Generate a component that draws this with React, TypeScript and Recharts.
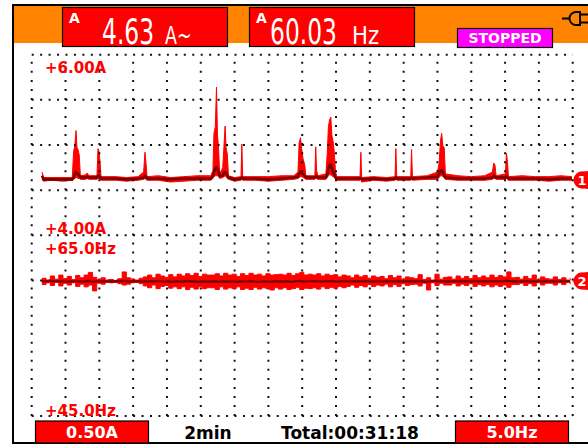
import React from 'react';
import { ComposedChart, Area, Line, XAxis, YAxis, ReferenceLine } from 'recharts';

// trace 1: current (A), min / avg / max per sample, time in minutes across the screen
const ampTime = [
  0.61, 0.7, 1.2, 1.8, 2.4,
  2.48, 2.55, 2.62, 2.68, 2.74, 2.81, 2.88,
  3.2, 3.27, 3.4, 3.86, 3.92, 3.98, 4.04, 4.1,
  5.0, 5.6, 6.3, 6.62, 6.7, 6.76, 6.82,
  7.5, 8.2, 9.0, 9.8, 10.6,
  10.72, 10.78, 10.86, 10.93, 10.99, 11.05, 11.12,
  11.3, 11.37, 11.44, 11.5, 11.57, 11.64,
  12.0, 12.38, 12.43, 12.48, 13.2, 14.0, 14.8, 15.5,
  15.75, 15.82, 15.9, 15.97, 16.05, 16.15, 16.22,
  16.75, 16.8, 16.85, 16.92, 17.4,
  17.48, 17.55, 17.62, 17.69, 17.76, 17.83, 17.9, 17.97, 18.05,
  19.0, 19.42, 19.47, 19.52, 20.2, 21.0, 21.49, 21.54, 21.59,
  22.42, 22.47, 22.52, 23.4, 24.0,
  24.1, 24.18, 24.25, 24.32, 24.4, 24.47,
  25.2, 26.0, 26.8, 27.25, 27.33, 27.4, 27.47,
  28.02, 28.08, 28.14, 28.2, 29.0, 29.8, 30.6, 31.3, 31.95,
];
const ampLow = [
  4.62, 4.6, 4.61, 4.6, 4.61,
  4.62, 4.63, 4.64, 4.64, 4.63, 4.63, 4.62,
  4.62, 4.63, 4.62, 4.62, 4.63, 4.63, 4.62, 4.61,
  4.61, 4.6, 4.61, 4.62, 4.63, 4.62, 4.61,
  4.61, 4.59, 4.6, 4.61, 4.61,
  4.63, 4.65, 4.66, 4.66, 4.66, 4.65, 4.63,
  4.64, 4.65, 4.66, 4.65, 4.63, 4.62,
  4.6, 4.61, 4.62, 4.61, 4.61, 4.6, 4.61, 4.62,
  4.63, 4.64, 4.65, 4.65, 4.64, 4.63, 4.62,
  4.62, 4.63, 4.63, 4.62, 4.62,
  4.64, 4.66, 4.67, 4.67, 4.66, 4.65, 4.64, 4.62, 4.61,
  4.61, 4.61, 4.62, 4.59, 4.61, 4.6, 4.61, 4.62, 4.61,
  4.61, 4.62, 4.61, 4.62, 4.62,
  4.64, 4.66, 4.66, 4.65, 4.64, 4.62,
  4.61, 4.61, 4.61, 4.62, 4.63, 4.63, 4.62,
  4.62, 4.63, 4.62, 4.61, 4.61, 4.61, 4.6, 4.61, 4.61,
];
const ampAvg = [
  4.66, 4.62, 4.62, 4.62, 4.62,
  4.64, 4.68, 4.7, 4.69, 4.68, 4.66, 4.64,
  4.64, 4.65, 4.64, 4.64, 4.66, 4.66, 4.65, 4.63,
  4.63, 4.62, 4.63, 4.64, 4.66, 4.65, 4.63,
  4.63, 4.62, 4.63, 4.63, 4.63,
  4.66, 4.7, 4.74, 4.75, 4.73, 4.7, 4.66,
  4.66, 4.69, 4.7, 4.69, 4.66, 4.64,
  4.62, 4.63, 4.64, 4.63, 4.63, 4.62, 4.63, 4.64,
  4.65, 4.68, 4.7, 4.69, 4.68, 4.66, 4.64,
  4.64, 4.65, 4.65, 4.64, 4.64,
  4.68, 4.74, 4.78, 4.78, 4.74, 4.7, 4.68, 4.64, 4.63,
  4.63, 4.63, 4.63, 4.62, 4.63, 4.62, 4.63, 4.64, 4.63,
  4.63, 4.64, 4.63, 4.64, 4.65,
  4.68, 4.72, 4.72, 4.7, 4.67, 4.64,
  4.63, 4.63, 4.63, 4.64, 4.66, 4.65, 4.64,
  4.64, 4.65, 4.64, 4.63, 4.63, 4.63, 4.62, 4.63, 4.63,
];
const ampHigh = [
  4.7, 4.64, 4.64, 4.64, 4.64,
  4.93, 4.99, 5.16, 4.97, 4.95, 4.89, 4.66,
  4.67, 4.69, 4.66, 4.66, 4.96, 4.93, 4.82, 4.65,
  4.65, 4.64, 4.65, 4.7, 4.92, 4.8, 4.65,
  4.66, 4.64, 4.65, 4.66, 4.66,
  4.72, 5.13, 5.2, 5.64, 5.1, 4.98, 4.68,
  4.75, 4.98, 5.21, 4.97, 4.9, 4.66,
  4.64, 4.65, 5.01, 4.65, 4.65, 4.65, 4.66, 4.66,
  4.7, 5.03, 5.08, 4.96, 4.85, 4.78, 4.66,
  4.66, 4.98, 4.72, 4.66, 4.68,
  4.9, 5.2, 5.28, 5.31, 5.1, 5.04, 4.92, 4.7, 4.65,
  4.65, 4.65, 4.92, 4.64, 4.65, 4.64, 4.65, 4.96, 4.65,
  4.65, 4.95, 4.65, 4.66, 4.7,
  4.8, 5.05, 5.13, 4.99, 4.97, 4.68,
  4.66, 4.65, 4.66, 4.7, 4.8, 4.78, 4.66,
  4.68, 4.91, 4.82, 4.65, 4.66, 4.65, 4.65, 4.66, 4.65,
];

// trace 2: frequency (Hz)
const hzTime = [
  0.6, 0.85, 1.1, 1.35, 1.6, 1.85, 2.1, 2.35,
  2.6, 2.85, 3.1, 3.35, 3.6, 3.85, 4.1, 4.35,
  4.6, 4.85, 5.1, 5.35, 5.6, 5.85, 6.1, 6.35,
  6.6, 6.85, 7.1, 7.35, 7.6, 7.85, 8.1, 8.35,
  8.6, 8.85, 9.1, 9.35, 9.6, 9.85, 10.1, 10.35,
  10.6, 10.85, 11.1, 11.35, 11.6, 11.85, 12.1, 12.35,
  12.6, 12.85, 13.1, 13.35, 13.6, 13.85, 14.1, 14.35,
  14.6, 14.85, 15.1, 15.35, 15.6, 15.85, 16.1, 16.35,
  16.6, 16.85, 17.1, 17.35, 17.6, 17.85, 18.1, 18.35,
  18.6, 18.85, 19.1, 19.35, 19.6, 19.85, 20.1, 20.35,
  20.6, 20.85, 21.1, 21.35, 21.6, 21.85, 22.1, 22.35,
  22.6, 22.85, 23.1, 23.35, 23.6, 23.85, 24.1, 24.35,
  24.6, 24.85, 25.1, 25.35, 25.6, 25.85, 26.1, 26.35,
  26.6, 26.85, 27.1, 27.35, 27.6, 27.85, 28.1, 28.35,
  28.6, 28.85, 29.1, 29.35, 29.6, 29.85, 30.1, 30.35,
  30.6, 30.85, 31.1, 31.35, 31.6, 31.85,
];
const hzLow = [
  59.55, 59.75, 59.45, 59.8, 59.4, 59.7, 59.5, 59.75,
  59.35, 59.6, 59.3, 59.5, 58.85, 59.7, 59.6, 59.8,
  59.75, 59.8, 59.65, 59.5, 59.6, 59.75, 59.8, 59.65,
  59.4, 59.2, 59.5, 59.1, 59.35, 59.45, 59.15, 59.3,
  59.1, 59.3, 59.0, 59.25, 59.05, 59.3, 59.1, 59.2,
  59.2, 59.0, 59.3, 59.05, 59.2, 59.1, 59.3, 59.0,
  59.15, 59.0, 59.25, 59.05, 59.2, 59.1, 58.95, 59.2,
  59.05, 59.2, 59.0, 59.1, 59.25, 59.0, 59.15, 59.1,
  59.2, 59.05, 59.3, 59.1, 59.25, 59.15, 59.35, 59.2,
  59.35, 59.5, 59.25, 59.45, 59.3, 59.55, 59.35, 59.5,
  59.4, 59.6, 59.3, 59.55, 59.35, 59.65, 59.45, 59.55,
  59.6, 59.4, 59.7, 58.95, 59.75, 59.45, 59.7, 59.5,
  59.5, 59.7, 59.4, 59.6, 59.45, 59.65, 59.35, 59.55,
  59.4, 59.55, 59.3, 59.5, 59.35, 59.5, 59.25, 59.55,
  59.55, 59.7, 59.45, 59.65, 59.4, 59.75, 59.5, 59.7,
  59.7, 59.5, 59.75, 59.55, 59.8, 59.6,
];
const hzAvg = [
  59.92, 59.9, 59.95, 59.9, 59.92, 59.9, 59.88, 59.9,
  59.9, 59.92, 59.88, 59.95, 59.85, 59.9, 59.92, 59.9,
  59.92, 59.9, 59.9, 59.95, 59.9, 59.92, 59.9, 59.9,
  59.9, 59.88, 59.92, 59.9, 59.9, 59.88, 59.9, 59.85,
  59.9, 59.88, 59.9, 59.92, 59.9, 59.85, 59.9, 59.88,
  59.88, 59.9, 59.85, 59.9, 59.88, 59.9, 59.85, 59.9,
  59.88, 59.9, 59.9, 59.85, 59.88, 59.9, 59.85, 59.9,
  59.9, 59.88, 59.92, 59.85, 59.9, 59.95, 59.88, 59.9,
  59.9, 59.92, 59.88, 59.9, 59.9, 59.92, 59.88, 59.9,
  59.92, 59.9, 59.92, 59.9, 59.92, 59.9, 59.92, 59.9,
  59.92, 59.9, 59.92, 59.9, 59.92, 59.9, 59.92, 59.9,
  59.9, 59.92, 59.9, 59.85, 59.9, 59.95, 59.92, 59.9,
  59.92, 59.9, 59.92, 59.9, 59.92, 59.9, 59.92, 59.9,
  59.92, 59.9, 59.92, 59.9, 59.92, 59.9, 59.98, 59.9,
  59.92, 59.9, 59.92, 59.9, 59.92, 59.9, 59.92, 59.9,
  59.9, 59.92, 59.9, 59.92, 59.9, 59.92,
];
const hzHigh = [
  60.25, 60.05, 60.5, 60.15, 60.6, 60.2, 60.45, 60.1,
  60.55, 60.3, 60.6, 60.9, 60.35, 60.1, 60.3, 60.05,
  60.1, 60.0, 60.2, 60.95, 60.3, 60.15, 60.05, 60.25,
  60.4, 60.6, 60.3, 60.7, 60.5, 60.35, 60.65, 60.4,
  60.7, 60.5, 60.75, 60.55, 60.8, 60.45, 60.7, 60.6,
  60.6, 60.75, 60.5, 60.8, 60.6, 60.7, 60.45, 60.75,
  60.55, 60.8, 60.6, 60.7, 60.5, 60.75, 60.6, 60.65,
  60.7, 60.6, 60.8, 60.55, 60.75, 60.9, 60.6, 60.7,
  60.6, 60.75, 60.5, 60.7, 60.55, 60.65, 60.4, 60.6,
  60.5, 60.3, 60.6, 60.4, 60.55, 60.25, 60.5, 60.35,
  60.45, 60.2, 60.55, 60.3, 60.5, 60.15, 60.4, 60.3,
  60.2, 60.65, 60.1, 60.3, 60.05, 60.7, 60.15, 60.35,
  60.4, 60.15, 60.5, 60.25, 60.45, 60.2, 60.55, 60.3,
  60.5, 60.3, 60.6, 60.35, 60.55, 60.4, 60.95, 60.3,
  60.35, 60.15, 60.45, 60.2, 60.6, 60.1, 60.4, 60.2,
  60.15, 60.4, 60.1, 60.3, 60.05, 60.25,
];

// grid: 2 min per column, 0.5 A per row
const gridMinutes = [0, 2, 4, 6, 8, 10, 12, 14, 16, 18, 20, 22, 24, 26, 28, 30, 32];
const gridAmps = [6, 5.5, 5, 4.5, 4, 3.5, 2];

const ampRows = ampTime.map((t, i) => ({ t, band: [ampLow[i], ampHigh[i]], avg: ampAvg[i] }));
const hzRows = hzTime.map((t, i) => ({ t, band: [hzLow[i], hzHigh[i]], avg: hzAvg[i] }));

const W = 588;
const H = 448;
const margin = { top: 54.7, right: 15.3, bottom: 32, left: 31.7 };
const layer: React.CSSProperties = { position: 'absolute', left: 0, top: 0 };

const RED = '#ff0000';
const DARK = '#7a0000';
const ORANGE = '#ff8200';

const Marker = ({ y, n }: { y: number; n: string }) => (
  <g>
    <path d={`M573 ${y} L579 ${y - 8} L588 ${y - 9} L588 ${y + 9} L579 ${y + 8} Z`} fill={RED} />
    <circle cx={582} cy={y} r={8.5} fill={RED} />
    <text x={582} y={y + 5} fill="#fff" fontSize={13} fontWeight="bold" fontFamily="DejaVu Sans" textAnchor="middle">{n}</text>
  </g>
);

export default function App() {
  return (
    <div style={{ ...layer, width: W, height: H, background: '#fff' }}>
      <div style={layer}>
        <ComposedChart width={W} height={H} data={ampRows} margin={margin}>
          <XAxis type="number" dataKey="t" domain={[0, 32]} hide allowDataOverflow />
          <YAxis type="number" domain={[2, 6]} hide allowDataOverflow />
          {gridMinutes.map((m) => (
            <ReferenceLine key={'v' + m} x={m} stroke="#111" strokeWidth={2} strokeDasharray="2 7.03" />
          ))}
          {gridAmps.map((a) => (
            <ReferenceLine key={'h' + a} y={a} stroke="#111" strokeWidth={2} strokeDasharray="2 6.45" />
          ))}
          <Area type="linear" dataKey="band" stroke={RED} strokeWidth={1} fill={RED} fillOpacity={1} isAnimationActive={false} />
          <Line type="linear" dataKey="avg" stroke={DARK} strokeWidth={2.6} dot={false} isAnimationActive={false} />
        </ComposedChart>
      </div>
      <div style={layer}>
        <ComposedChart width={W} height={H} data={hzRows} margin={margin}>
          <XAxis type="number" dataKey="t" domain={[0, 32]} hide allowDataOverflow />
          <YAxis type="number" domain={[45, 85]} hide allowDataOverflow />
          <Area type="stepAfter" dataKey="band" stroke={RED} strokeWidth={1} fill={RED} fillOpacity={1} isAnimationActive={false} />
          <Line type="linear" dataKey="avg" stroke={DARK} strokeWidth={2.2} dot={false} isAnimationActive={false} />
        </ComposedChart>
      </div>
      <svg width={W} height={H} style={{ ...layer, pointerEvents: 'none' }} fontFamily="DejaVu Sans">
        {/* header band */}
        <rect x={13} y={5} width={575} height={38} fill={ORANGE} />
        <line x1={13} y1={5} x2={588} y2={5} stroke="#000" strokeWidth={2} />
        <line x1={13} y1={4} x2={13} y2={444} stroke="#000" strokeWidth={2} />
        <line x1={13} y1={443} x2={588} y2={443} stroke="#000" strokeWidth={2} />

        <rect x={62.5} y={7.5} width={165} height={39} fill={RED} stroke="#000" strokeWidth={1.2} />
        <text x={69} y={23} fill="#fff" fontSize={14} fontWeight="bold">A</text>
        <text transform="translate(102,44) scale(0.65,1)" fill="#fff" fontSize={36}>4.63</text>
        <text transform="translate(165,44) scale(0.7,1)" fill="#fff" fontSize={25}>A~</text>

        <rect x={249.5} y={7.5} width={165} height={39} fill={RED} stroke="#000" strokeWidth={1.2} />
        <text x={256} y={23} fill="#fff" fontSize={14} fontWeight="bold">A</text>
        <text transform="translate(270,44) scale(0.65,1)" fill="#fff" fontSize={36}>60.03</text>
        <text transform="translate(352,44) scale(0.85,1)" fill="#fff" fontSize={25}>Hz</text>

        <rect x={457.5} y={28.5} width={95} height={19} fill="#ff00ff" stroke="#000" strokeWidth={1.2} />
        <text x={505} y={43} fill="#fff" fontSize={14} fontWeight="bold" textAnchor="middle">STOPPED</text>

        {/* mains plug */}
        <g stroke="#000" strokeWidth={2} fill="none">
          <line x1={562} y1={18.5} x2={570} y2={18.5} />
          <path d="M580 12 L576 12 A6.5 6.5 0 0 0 576 25 L580 25 Z" />
          <line x1={580} y1={14.5} x2={588} y2={14.5} />
          <line x1={580} y1={22.5} x2={588} y2={22.5} />
        </g>

        {/* trace labels */}
        <g fill={RED} fontSize={15} fontWeight="bold">
          <text x={45} y={73}>+6.00A</text>
          <text x={45} y={234}>+4.00A</text>
          <text x={45} y={254}>+65.0Hz</text>
          <text x={45} y={416}>+45.0Hz</text>
        </g>

        <Marker y={180} n="1" />
        <Marker y={281} n="2" />

        {/* footer */}
        <rect x={35.5} y={421} width={113} height={22} fill={RED} stroke="#000" strokeWidth={1.2} />
        <text x={92} y={438} fill="#fff" fontSize={16} fontWeight="bold" textAnchor="middle">0.50A</text>
        <text x={208} y={439} fill="#000" fontSize={17} fontWeight="bold" textAnchor="middle">2min</text>
        <text x={350} y={439} fill="#000" fontSize={17} fontWeight="bold" textAnchor="middle">Total:00:31:18</text>
        <rect x={455.5} y={421} width={113} height={22} fill={RED} stroke="#000" strokeWidth={1.2} />
        <text x={512} y={438} fill="#fff" fontSize={16} fontWeight="bold" textAnchor="middle">5.0Hz</text>
      </svg>
    </div>
  );
}
